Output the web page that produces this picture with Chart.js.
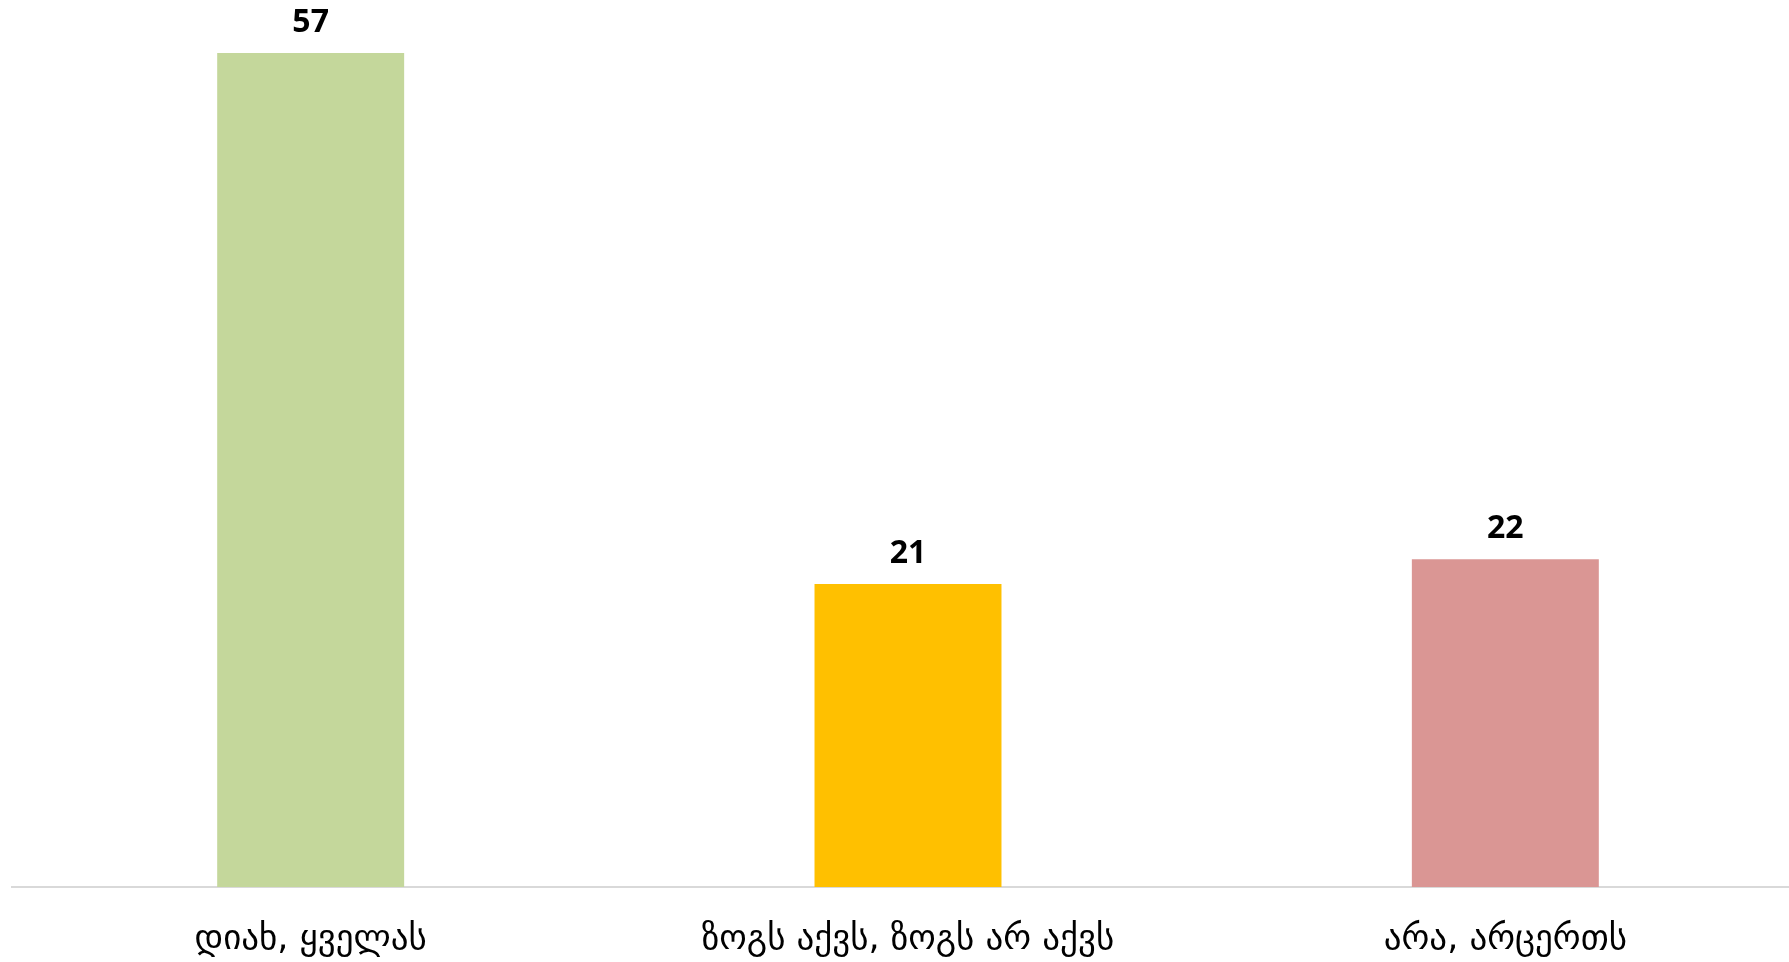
<!DOCTYPE html>
<html>
<head>
<meta charset="utf-8">
<script src="https://cdn.jsdelivr.net/npm/chart.js@4"></script>
<style>
    html, body { margin: 0; padding: 0; background: #fff; overflow: hidden; }
    /* the plot runs a little past the right edge, as in the original */
    #wrap { width: 1789px; height: 962px; overflow: hidden; }
</style>
</head>
<body>
<div id="wrap"><canvas id="barChart" width="1804" height="992"></canvas></div>
<script>
const categories = ['დიახ, ყველას', 'ზოგს აქვს, ზოგს არ აქვს', 'არა, არცერთს'];
// bar heights; the printed labels are rounded
const values = [57, 20.7, 22.4];
const barColors = ['#c4d79b', '#ffc000', '#da9694'];

// draws the (rounded) value above every bar
const valueLabels = {
    id: 'valueLabels',
    afterDatasetsDraw(chart) {
        const ctx = chart.ctx;
        const meta = chart.getDatasetMeta(0);
        ctx.save();
        ctx.font = 'bold 32px "Open Sans", sans-serif';
        ctx.fillStyle = '#000';
        ctx.textAlign = 'center';
        ctx.textBaseline = 'bottom';
        meta.data.forEach((bar, i) => {
            ctx.fillText(Math.round(chart.data.datasets[0].data[i]), bar.x, bar.y - 14);
        });
        ctx.restore();
    }
};

const ctx = document.getElementById('barChart').getContext('2d');
new Chart(ctx, {
    type: 'bar',
    data: {
        labels: categories,
        datasets: [{
            data: values,
            backgroundColor: barColors,
            borderWidth: 0,
            barPercentage: 0.626,
            categoryPercentage: 0.5
        }]
    },
    options: {
        responsive: false,
        animation: false,
        layout: { padding: { left: 12, right: 0, top: 9, bottom: 0 } },
        scales: {
            y: { display: false, min: 0, max: 60 },
            x: {
                grid: { display: false, drawTicks: false },
                border: { display: true, color: '#d9d9d9', width: 2 },
                ticks: {
                    color: '#000',
                    padding: 35,
                    font: { family: '"DejaVu Sans", sans-serif', size: 35, lineHeight: 1 }
                }
            }
        },
        plugins: {
            legend: { display: false },
            tooltip: { enabled: false }
        }
    },
    plugins: [valueLabels]
});
</script>
</body>
</html>
